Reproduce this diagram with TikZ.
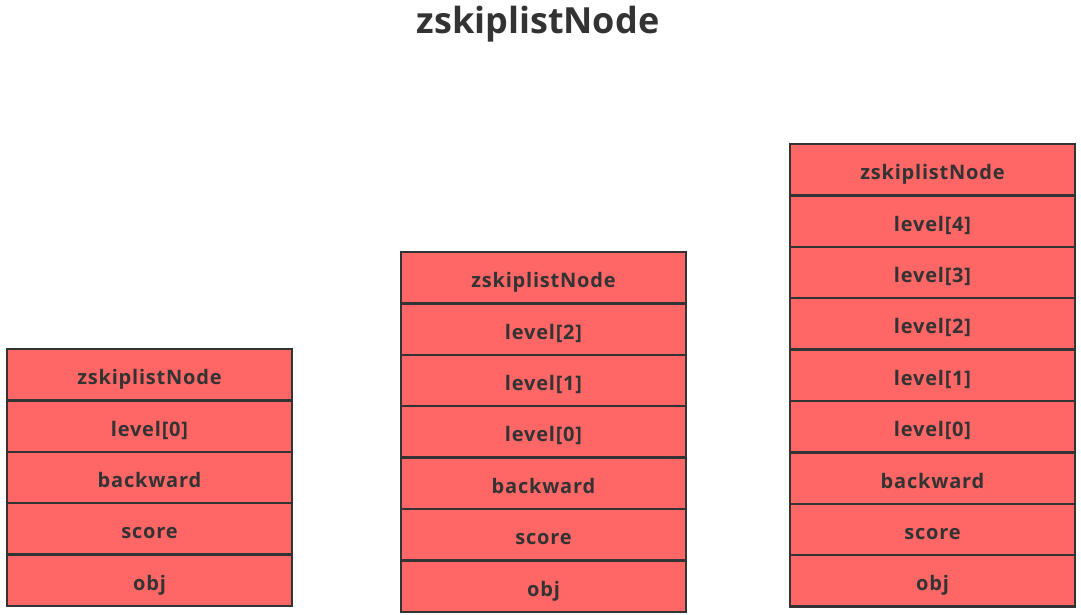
\documentclass[tikz,border=0pt]{standalone}
\usepackage{fontspec}
\setmainfont{Open Sans}
\definecolor{cellred}{HTML}{FF6666}
\definecolor{ink}{HTML}{333333}
\begin{document}
\begin{tikzpicture}[x=1pt,y=-1pt,
  cell/.style={draw=ink, line width=2.4pt, fill=cellred, minimum width=285pt,
    minimum height=51.4pt, inner sep=0pt, outer sep=0pt, anchor=north west,
    text height=20pt, text depth=0pt,
    font=\bfseries\fontsize{20}{23}\selectfont\addfontfeatures{LetterSpace=4}, text=ink},
  titletext/.style={font=\bfseries\fontsize{36}{40}\selectfont, text=ink, anchor=base}]
\useasboundingbox (0,0) rectangle (1081,614);
\node[titletext] (title) at (538,33) {zskiplistNode};
\foreach \t [count=\i from 0] in {zskiplistNode,{level[0]},backward,score,obj}
  \node[cell] (a\i) at (7,{349+51.4*\i}) {\t};
\foreach \t [count=\i from 0] in {zskiplistNode,{level[2]},{level[1]},{level[0]},backward,score,obj}
  \node[cell] (b\i) at (401,{252+51.4*\i}) {\t};
\foreach \t [count=\i from 0] in {zskiplistNode,{level[4]},{level[3]},{level[2]},{level[1]},{level[0]},backward,score,obj}
  \node[cell] (c\i) at (790,{144+51.4*\i}) {\t};
\end{tikzpicture}
\end{document}
